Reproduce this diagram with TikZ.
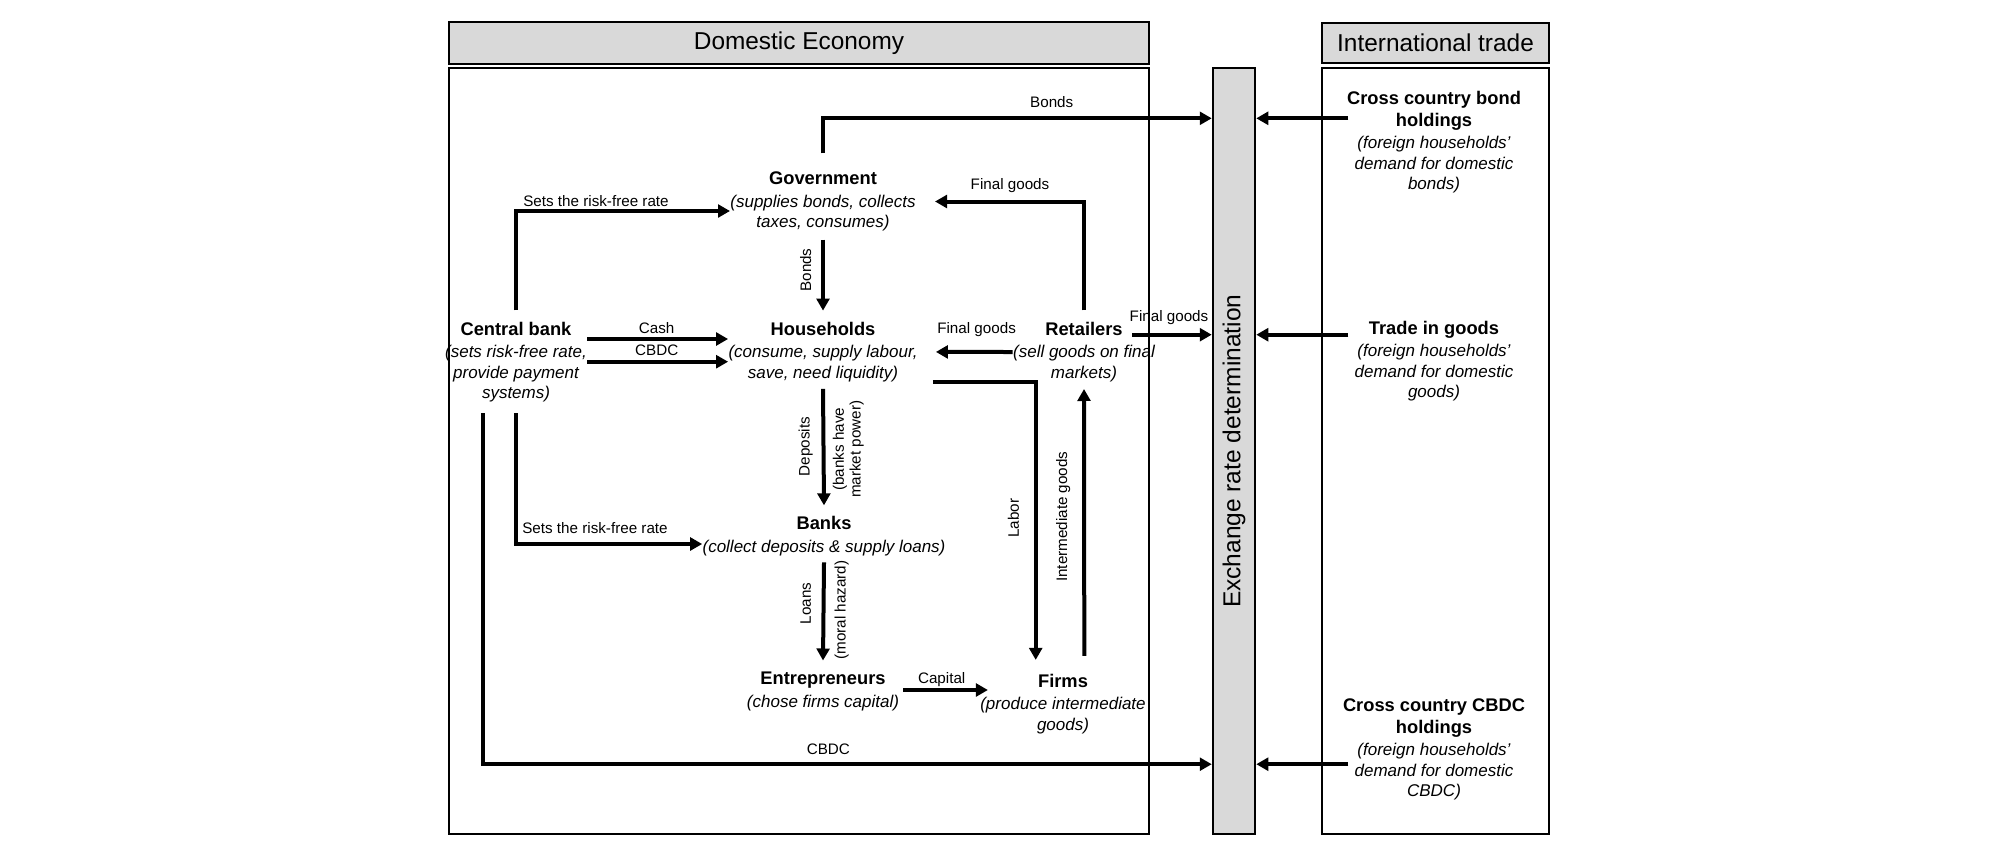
\documentclass[tikz,border=0pt]{standalone}
\usepackage{fontspec}
\setmainfont{Liberation Sans}
\usepackage{graphicx}
\usetikzlibrary{arrows.meta}
\definecolor{boxgray}{HTML}{D9D9D9}
\newcommand\entname[1]{{\fontsize{9.15}{10.25}\selectfont\bfseries\upshape #1}}
\begin{document}
\begin{tikzpicture}[x=0.5pt,y=-0.5pt,
  frame/.style={draw=black,line width=1.1pt},
  hdr/.style={frame,fill=boxgray,font=\fontsize{12.2}{14}\selectfont,inner sep=0pt},
  ent/.style={align=center,inner sep=0pt,font=\fontsize{8.5}{10.25}\selectfont\itshape},
  lab/.style={inner sep=0pt,font=\fontsize{7.6}{8.4}\selectfont},
  arr/.style={line width=2pt,-{Triangle[length=6pt,width=6.4pt]}},
]
\useasboundingbox (0,0) rectangle (2000,847);
% frames
\node[frame,minimum width=350pt,minimum height=383pt,inner sep=0pt] (dombox) at (799,451) {};
\node[hdr,minimum width=350pt,minimum height=21pt] (domhdr) at (799,43) {Domestic Economy};
\node[frame,minimum width=113.6pt,minimum height=383pt,inner sep=0pt] (intbox) at (1435.5,451.3) {};
\node[hdr,minimum width=113.6pt,minimum height=20.3pt] (inthdr) at (1435.5,43) {International trade};
\node[frame,fill=boxgray,minimum width=21.15pt,minimum height=383pt,inner sep=0pt,font=\fontsize{12.25}{14}\selectfont] (exch) at (1234,451.3) {\rotatebox{90}{Exchange rate determination}};
% entities
\node[ent] (gov) at (823,201.5) {\entname{Government}\\[1pt](supplies bonds, collects\\taxes, consumes)};
\node[ent] (hh) at (823,351.9) {\entname{Households}\\[1pt](consume, supply labour,\\save, need liquidity)};
\node[ent] (cb) at (516,362) {\entname{Central bank}\\[1pt](sets risk-free rate,\\provide payment\\systems)};
\node[ent] (banks) at (824,536) {\entname{Banks}\\[1pt](collect deposits \& supply loans)};
\node[ent] (ent) at (823,691.5) {\entname{Entrepreneurs}\\[1pt](chose firms capital)};
\node[ent] (firms) at (1063,703.8) {\entname{Firms}\\[1pt](produce intermediate\\goods)};
\node[ent] (ret) at (1084,352) {\entname{Retailers}\\[1pt](sell goods on final\\markets)};
\node[ent] (cbond) at (1434,142.2) {\entname{Cross country bond}\\[0.6pt]\entname{holdings}\\[1pt](foreign households’\\demand for domestic\\bonds)};
\node[ent] (trade) at (1434,361.3) {\entname{Trade in goods}\\[1pt](foreign households’\\demand for domestic\\goods)};
\node[ent] (ccbdc) at (1434,749.7) {\entname{Cross country CBDC}\\[0.6pt]\entname{holdings}\\[1pt](foreign households’\\demand for domestic\\CBDC)};
% levels
\coordinate (yb) at (0,118.3);
\coordinate (ycash) at (0,339);
\coordinate (ycbdc) at (0,361.7);
\coordinate (yfg) at (0,334.7);
\coordinate (ycap) at (0,690);
\coordinate (ycb) at (0,764.2);
\coordinate (xt) at (1348.3,0);
% connectors
\draw[arr] ([yshift=9pt]gov.north) |- (exch.west |- yb);
\draw[arr] ([yshift=-4pt]gov.south) -- ([yshift=5.5pt]hh.north);
\draw[arr] ([yshift=5.5pt]cb.north) |- ([yshift=-4.75pt]gov.west);
\draw[arr] (cb.east |- ycash) -- (hh.west |- ycash);
\draw[arr] (cb.east |- ycbdc) -- (hh.west |- ycbdc);
\draw[arr] ([yshift=-3.35pt]hh.south) -- ([yshift=5.3pt]banks.north);
\draw[arr] ([yshift=-5.35pt]cb.south) |- ([yshift=-4pt]banks.west);
\draw[arr] ([xshift=-16.35pt,yshift=-5.35pt]cb.south) |- (exch.west |- ycb);
\draw[arr] ([yshift=-3.2pt]banks.south) -- ([yshift=5.65pt]ent.north);
\draw[arr,shorten <=2pt,shorten >=-4pt] (ent.east |- ycap) -- (firms.west |- ycap);
\draw[arr] ([xshift=7.5pt,yshift=-15pt]hh.east) -| ([xshift=-13.65pt,yshift=6.8pt]firms.north);
\draw[arr] ([xshift=10.65pt,yshift=8.8pt]firms.north) -- ([yshift=-3.35pt]ret.south);
\draw[arr,shorten >=9pt] (ret.west) -- (hh.east);
\draw[arr,shorten >=9.5pt] ([yshift=5.65pt]ret.north) |- (gov.east);
\draw[arr,shorten <=-11.5pt] (ret.east |- yfg) -- (exch.west |- yfg);
\draw[arr] (xt |- yb) -- (exch.east |- yb);
\draw[arr] (xt |- yfg) -- (exch.east |- yfg);
\draw[arr] (xt |- ycb) -- (exch.east |- ycb);
% labels
\node[lab] (lbonds1) at (1051.7,102.3) {Bonds};
\node[lab] (lrf1) at (596,200.7) {Sets the risk-free rate};
\node[lab,rotate=90] (lbonds2) at (805.7,270) {Bonds};
\node[lab] (lcash) at (656.7,328.3) {Cash};
\node[lab] (lcbdc1) at (656.7,350.7) {CBDC};
\node[lab] (lfg1) at (1010,186) {Final goods};
\node[lab] (lfg2) at (976.6,330) {Final goods};
\node[lab] (lfg3) at (1169,317.7) {Final goods};
\node[lab,rotate=90] (ldep) at (805.7,446.7) {Deposits};
\node[lab,rotate=90,align=center] (lmp) at (848.3,449.3) {(banks have\\market power)};
\node[lab] (lrf2) at (595,528.3) {Sets the risk-free rate};
\node[lab,rotate=90] (lloans) at (805.7,603.3) {Loans};
\node[lab,rotate=90] (lmh) at (841.7,610) {(moral hazard)};
\node[lab,rotate=90] (llabor) at (1013.3,518.3) {Labor};
\node[lab,rotate=90] (lint) at (1063.3,516.7) {Intermediate goods};
\node[lab] (lcap) at (941.7,680) {Capital};
\node[lab] (lcbdc2) at (828.3,749.3) {CBDC};
\end{tikzpicture}
\end{document}
